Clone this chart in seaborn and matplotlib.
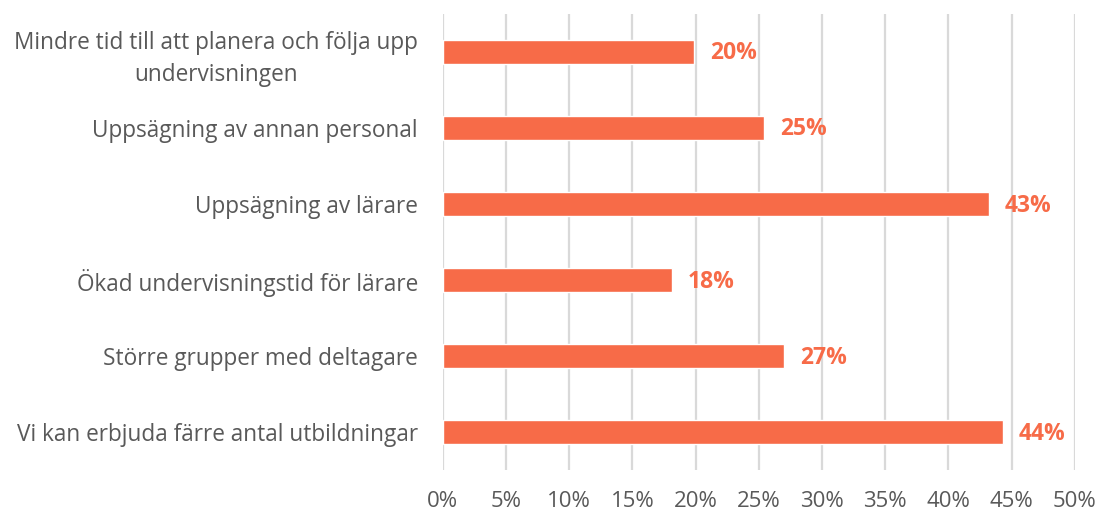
import matplotlib
matplotlib.use("Agg")
import matplotlib.pyplot as plt
import seaborn as sns
import pandas as pd

categories = [
    "Mindre tid till att planera och följa upp\nundervisningen",
    "Uppsägning av annan personal",
    "Uppsägning av lärare",
    "Ökad undervisningstid för lärare",
    "Större grupper med deltagare",
    "Vi kan erbjuda färre antal utbildningar",
]
values = [19.9, 25.4, 43.2, 18.1, 27.0, 44.3]
xticks = [0, 5, 10, 15, 20, 25, 30, 35, 40, 45, 50]

bar_color = "#F76B48"
text_color = "#595959"

sns.set_theme(style="white")
plt.rcParams["font.family"] = ["Open Sans", "DejaVu Sans"]

df = pd.DataFrame({"cat": categories, "val": values})

fig = plt.figure(figsize=(10.99, 5.16), dpi=100)
ax = fig.add_axes([0.403, 0.089, 0.575, 0.884])

sns.barplot(data=df, x="val", y="cat", color=bar_color, width=0.32,
            saturation=1, ax=ax, zorder=3)

for i, v in enumerate(values):
    ax.text(v + 1.25, i + 0.02, f"{v:.0f}%", va="center", ha="left", fontsize=16.5,
            fontweight="bold", color=bar_color)

ax.set_xlim(0, 50)
ax.set_ylim(len(categories) - 0.5, -0.5)
ax.set_xticks(xticks)
ax.set_xticklabels([f"{t}%" for t in xticks])
ax.xaxis.grid(True, color="#D9D9D9", linewidth=1.6, zorder=0)
ax.set_axisbelow(True)
for s in ax.spines.values():
    s.set_visible(False)
ax.set_xlabel("")
ax.set_ylabel("")
ax.tick_params(axis="x", length=0, pad=15, labelsize=16, labelcolor=text_color)
ax.tick_params(axis="y", length=0, pad=18, labelsize=16.3, labelcolor=text_color)
for lbl in ax.get_yticklabels():
    lbl.set_multialignment("center")
    lbl.set_linespacing(1.45)

fig.savefig("out.png", dpi=100)
